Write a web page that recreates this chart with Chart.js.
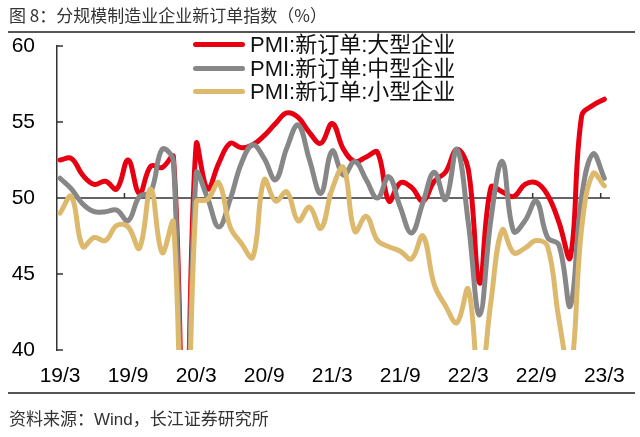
<!DOCTYPE html>
<html>
<head>
<meta charset="utf-8">
<script src="https://cdn.jsdelivr.net/npm/chart.js@4/dist/chart.umd.min.js"></script>
<style>
html,body{margin:0;padding:0;background:#fff;}
#wrap{position:relative;width:640px;height:437px;overflow:hidden;font-family:"Liberation Sans","Noto Sans CJK SC",sans-serif;}
#c{position:absolute;left:0;top:0;}
#title{position:absolute;left:9px;top:4px;font-size:17px;line-height:22px;color:#333;font-family:"Noto Sans CJK SC",sans-serif;white-space:nowrap;}
#source{position:absolute;left:9px;top:409px;font-size:17px;line-height:22px;color:#333;font-family:"Liberation Sans","Noto Sans CJK SC",sans-serif;white-space:nowrap;}
.rule{position:absolute;left:8px;width:627px;height:0;border-top:2px solid #555;}
#legend{position:absolute;left:193px;top:33px;}
.item{height:23.5px;display:flex;align-items:center;}
.sw{width:52px;height:5px;border-radius:3px;margin-right:5px;}
.lab{font-size:22px;line-height:23.5px;color:#111;white-space:nowrap;font-family:"Liberation Sans","Noto Sans CJK SC",sans-serif;}
</style>
</head>
<body>
<div id="wrap">
  <canvas id="c" width="640" height="437"></canvas>
  <div id="title">图 8：分规模制造业企业新订单指数（%）</div>
  <div class="rule" style="top:31px"></div>
  <div id="legend"></div>
  <div class="rule" style="top:392px"></div>
  <div id="source">资料来源：Wind，长江证券研究所</div>
</div>
<script>
const months = [
  '19/3','19/4','19/5','19/6','19/7','19/8','19/9','19/10','19/11','19/12',
  '20/1','20/2','20/3','20/4','20/5','20/6','20/7','20/8','20/9','20/10','20/11','20/12',
  '21/1','21/2','21/3','21/4','21/5','21/6','21/7','21/8','21/9','21/10','21/11','21/12',
  '22/1','22/2','22/3','22/4','22/5','22/6','22/7','22/8','22/9','22/10','22/11','22/12',
  '23/1','23/2','23/3'
];
const seriesNames = ['PMI:新订单:大型企业', 'PMI:新订单:中型企业', 'PMI:新订单:小型企业'];
const large = [
  52.5,52.6,51.5,50.9,51.1,50.6,52.5,50.3,52.1,52.0,
  52.7,30.5,53.5,50.6,52.3,53.6,53.3,53.5,54.1,54.9,55.6,55.3,
  54.3,53.6,54.9,53.2,52.4,52.7,53.0,49.8,51.0,50.7,49.8,51.1,
  51.7,53.2,51.9,44.4,50.7,50.4,50.1,50.9,51.0,50.2,48.4,46.1,
  55.4,56.1,56.5
];
const medium = [
  51.3,50.6,49.6,49.1,49.1,49.2,48.5,50.1,50.4,53.2,
  52.4,27.5,51.6,50.0,48.1,49.9,52.3,53.5,52.6,51.2,53.3,54.8,
  52.5,50.3,53.1,51.5,52.4,51.2,50.0,51.4,49.4,47.7,49.7,51.7,
  49.9,53.2,48.4,42.3,48.6,52.4,47.8,48.5,49.8,47.4,46.9,42.9,
  50.1,52.9,51.3
];
const small = [
  49.0,50.1,46.8,47.4,47.2,48.2,48.1,46.7,50.6,46.4,
  48.4,26.0,49.7,49.9,51.0,48.1,47.0,46.1,51.2,49.8,50.4,48.5,
  49.4,48.0,50.6,52.0,47.8,48.8,47.2,46.8,46.5,46.0,47.5,44.3,
  42.9,41.8,44.0,37.5,43.2,47.9,46.4,46.7,47.2,46.8,42.0,38.5,
  48.0,51.6,50.8
];
const yTickValues = [40, 45, 50, 55, 60];
const labelEvery = 6;

const colors = ['#E60012', '#878787', '#DDB96D'];
const seriesValues = [large, medium, small];

// HTML legend built from series names/colors
const leg = document.getElementById('legend');
seriesNames.forEach((n, k) => {
  const it = document.createElement('div'); it.className = 'item';
  const sw = document.createElement('div'); sw.className = 'sw'; sw.style.background = colors[k];
  const lb = document.createElement('div'); lb.className = 'lab'; lb.textContent = n;
  it.appendChild(sw); it.appendChild(lb); leg.appendChild(it);
});

Chart.defaults.font.family = "'Liberation Sans','Noto Sans CJK SC',sans-serif";

const decor = {
  id: 'decor',
  beforeDatasetsDraw(chart) {
    const {ctx, chartArea: a, scales: {x, y}} = chart;
    ctx.save();
    ctx.strokeStyle = '#333';
    ctx.lineWidth = 1.5;
    ctx.beginPath();
    const y50 = y.getPixelForValue(50);
    ctx.moveTo(a.left, y50); ctx.lineTo(a.right, y50);
    for (let k = 1; k * labelEvery <= months.length; k++) {
      const px = x.getPixelForValue(x.min + k * labelEvery - 0.05);
      ctx.moveTo(px, y50); ctx.lineTo(px, y50 - 5);
    }
    yTickValues.forEach(v => {
      const py = y.getPixelForValue(v);
      ctx.moveTo(a.left, py); ctx.lineTo(a.left + 6, py);
    });
    ctx.stroke();
    ctx.restore();
  }
};

new Chart(document.getElementById('c'), {
  type: 'line',
  data: {
    datasets: seriesValues.map((arr, k) => ({
      label: seriesNames[k],
      data: arr.map((v, i) => ({x: i, y: v})),
      borderColor: colors[k],
      backgroundColor: colors[k],
      borderWidth: 5,
      pointRadius: 0,
      tension: 0.4,
      borderCapStyle: 'round',
      borderJoinStyle: 'round',
      order: 3 - k,
      fill: false
    }))
  },
  options: {
    responsive: false,
    animation: false,
    devicePixelRatio: 1,
    layout: {padding: {left: 0, top: 46, right: 30, bottom: 47}},
    plugins: {legend: {display: false}, tooltip: {enabled: false}},
    scales: {
      x: {
        type: 'linear',
        bounds: 'data',
        min: -0.27,
        max: 48.5,
        afterBuildTicks: s => {
          s.ticks = months.map((m, i) => ({value: i})).filter(t => t.value % labelEvery === 0);
        },
        ticks: {
          autoSkip: false, maxRotation: 0, minRotation: 0,
          callback: v => months[v],
          font: {size: 21}, color: '#000', padding: 14
        },
        grid: {display: false, drawTicks: false},
        border: {display: false},
        afterFit: s => { s.height = 40; }
      },
      y: {
        min: 40, max: 60,
        afterBuildTicks: s => { s.ticks = yTickValues.map(v => ({value: v})); },
        ticks: {font: {size: 21}, color: '#000', padding: 22},
        grid: {display: false, drawTicks: false},
        border: {display: true, color: '#333', width: 1.5},
        afterFit: s => { s.width = 57; }
      }
    }
  },
  plugins: [decor]
});
</script>
</body>
</html>
